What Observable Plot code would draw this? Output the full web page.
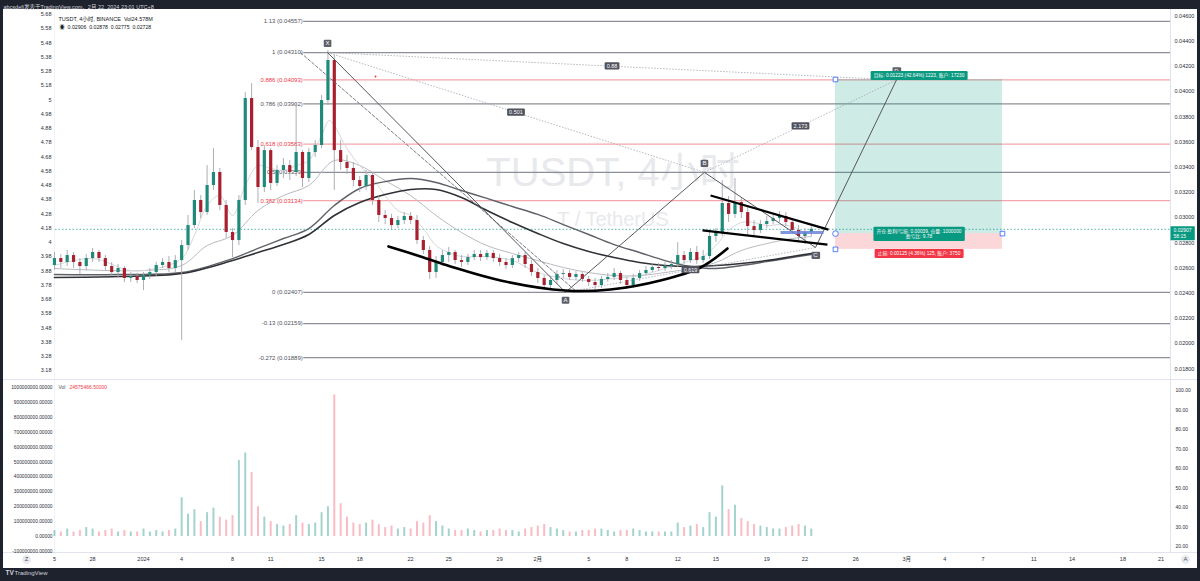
<!DOCTYPE html>
<html><head><meta charset="utf-8">
<script src="https://cdn.jsdelivr.net/npm/d3@7"></script>
<script src="https://cdn.jsdelivr.net/npm/@observablehq/plot@0.6"></script>
<style>
html,body{margin:0;padding:0}
body{width:1200px;height:581px;background:#1e222d;position:relative;overflow:hidden;font-family:"Liberation Sans","Noto Sans CJK SC",sans-serif}
.abs{position:absolute}
#panel{left:3px;top:9px;width:1194px;height:559px;background:#fff}
.sep{background:#e0e3eb}
.ico{width:9px;height:9px;border-radius:50%;background:#e9ebf2;color:#555;font-size:6px;line-height:9px;text-align:center}
</style></head><body>
<div id="panel" class="abs"></div>
<div class="abs sep" style="left:3px;top:379px;width:1194px;height:1px"></div>
<div class="abs sep" style="left:3px;top:552px;width:1194px;height:1px"></div>
<div class="abs sep" style="left:1170px;top:9px;width:1px;height:543px"></div>
<div class="abs" style="left:54px;top:9px;width:1px;height:543px;background:#f0f2f7"></div>
<div class="abs ico" style="left:22px;top:555px">Z</div>
<div class="abs ico" style="left:1181px;top:555px">A</div>
<div id="price" class="abs" style="left:0;top:0"></div>
<div id="vol" class="abs" style="left:0;top:379px"></div>
<script>
// ---------- data ----------
const candleStartDay = -7;      // 2023-12-25 (days from 2024-01-01, UTC+8 chart time)
const candleStepDays = 0.5;
const opens = [.02620,.02675,.02644,.02699,.02644,.02612,.02675,.02723,.02675,.02612,
.02564,.02596,.02517,.02532,.02501,.02540,.02564,.02620,.02644,.02596,
.02659,.02778,.02937,.03136,.03040,.03255,.03358,.03096,.02882,.02818,
.03136,.03945,.03556,.03239,.03532,.03271,.03374,.03413,.03358,.03517,
.03310,.03517,.03572,.03929,.04247,.03532,.03437,.03390,.03294,.03247,
.03334,.03136,.03017,.02993,.02937,.02977,.03009,.02977,.02818,.02739,
.02564,.02644,.02699,.02723,.02659,.02644,.02683,.02707,.02683,.02715,
.02675,.02644,.02620,.02675,.02699,.02628,.02564,.02517,.02461,.02501,
.02548,.02556,.02525,.02548,.02509,.02485,.02461,.02509,.02525,.02556,
.02501,.02461,.02517,.02556,.02580,.02604,.02596,.02612,.02628,.02699,
.02659,.02723,.02659,.02691,.02850,.02882,.03112,.03025,.03120,.03040,
.02929,.02898,.02945,.02969,.02993,.03009,.02961,.02898,.02850,.02882];
const highs = [.02723,.02707,.02739,.02723,.02675,.02707,.02755,.02739,.02699,.02644,
.02628,.02612,.02564,.02556,.02564,.02596,.02644,.02675,.02691,.02699,
.02818,.03017,.03215,.03175,.03413,.03548,.03390,.03136,.02913,.03175,
.03993,.04064,.03612,.03572,.03548,.03413,.03469,.03453,.03906,.03532,
.03548,.03612,.03969,.04326,.04287,.03612,.03493,.03437,.03326,.03374,
.03358,.03167,.03056,.03025,.03009,.03040,.03040,.03017,.02850,.02771,
.02691,.02739,.02763,.02739,.02699,.02707,.02739,.02739,.02739,.02739,
.02707,.02675,.02699,.02723,.02723,.02659,.02596,.02540,.02532,.02580,
.02588,.02580,.02572,.02564,.02532,.02517,.02532,.02556,.02596,.02572,
.02525,.02548,.02580,.02612,.02636,.02636,.02644,.02659,.02802,.02731,
.02755,.02771,.02739,.02898,.02913,.03294,.03167,.03310,.03152,.03088,
.02977,.02977,.03009,.03032,.03048,.03040,.02993,.02937,.02913,.02929];
const lows = [.02580,.02596,.02612,.02596,.02548,.02580,.02644,.02644,.02580,.02532,
.02517,.02485,.02485,.02477,.02421,.02509,.02532,.02596,.02564,.02564,
.02024,.02739,.02913,.02993,.03017,.03215,.03056,.02834,.02683,.02778,
.03096,.03532,.03112,.03199,.03215,.03247,.03310,.03294,.03326,.03239,
.03279,.03477,.03548,.03890,.03215,.03374,.03342,.03247,.03199,.03215,
.03096,.02961,.02945,.02905,.02913,.02945,.02945,.02786,.02707,.02509,
.02517,.02612,.02644,.02628,.02604,.02620,.02659,.02651,.02659,.02644,
.02612,.02588,.02596,.02644,.02596,.02532,.02477,.02429,.02437,.02469,
.02517,.02501,.02501,.02485,.02453,.02421,.02437,.02485,.02501,.02469,
.02429,.02437,.02493,.02540,.02564,.02572,.02572,.02588,.02604,.02628,
.02636,.02628,.02636,.02667,.02802,.02850,.02961,.02993,.02993,.02858,
.02858,.02874,.02913,.02945,.02961,.02929,.02866,.02810,.02786,.02850];
const closes = [.02675,.02644,.02699,.02644,.02612,.02675,.02723,.02675,.02612,.02564,
.02596,.02517,.02532,.02501,.02540,.02564,.02620,.02644,.02596,.02659,
.02778,.02937,.03136,.03040,.03255,.03358,.03096,.02882,.02818,.03136,
.03945,.03556,.03239,.03532,.03271,.03374,.03413,.03358,.03517,.03310,
.03517,.03572,.03929,.04247,.03532,.03437,.03390,.03294,.03247,.03334,
.03136,.03017,.02993,.02937,.02977,.03009,.02977,.02818,.02739,.02564,
.02644,.02699,.02723,.02659,.02644,.02683,.02707,.02683,.02715,.02675,
.02644,.02620,.02675,.02699,.02628,.02564,.02517,.02461,.02501,.02548,
.02556,.02525,.02548,.02509,.02485,.02461,.02509,.02525,.02556,.02501,
.02461,.02517,.02556,.02580,.02604,.02596,.02612,.02628,.02699,.02659,
.02723,.02659,.02691,.02850,.02882,.03112,.03025,.03120,.03040,.02929,
.02898,.02945,.02969,.02993,.03009,.02961,.02898,.02850,.02882,.02907];
// volume in units of 100,000,000
const volumes100M = [0.4,0.3,0.5,0.3,0.4,0.6,0.5,0.3,0.4,0.5,0.3,0.4,0.3,0.3,0.5,0.3,0.4,0.3,0.4,0.5,
2.6,1.5,1.8,1.0,1.6,1.9,1.3,1.1,1.4,5.1,5.6,4.3,2.0,1.3,1.0,0.8,0.7,0.8,1.4,0.9,
0.8,0.9,1.6,2.0,9.5,2.2,1.3,0.9,0.8,0.9,1.1,0.8,0.6,0.7,0.5,0.6,0.5,1.0,0.9,1.4,
1.0,0.7,0.5,0.4,0.4,0.5,0.4,0.3,0.4,0.4,0.5,0.4,0.4,0.3,0.5,0.6,0.7,0.8,0.6,0.5,
0.4,0.3,0.3,0.4,0.4,0.5,0.5,0.4,0.3,0.4,0.4,0.5,0.4,0.3,0.3,0.3,0.3,0.3,0.9,0.6,
0.7,0.8,0.6,1.6,1.3,3.4,1.8,2.1,1.2,1.0,0.8,0.7,0.6,0.5,0.5,0.6,0.7,0.8,0.7,0.5];

// moving averages (day offsets from 2024-01-01)
const maFastDays = [-7,-4,-1,1,3,4,5,6,7,8,9,10,11,12,13,14,14.6,15,16,17,18,19,20,21,22,23,24,25,27,29,31,33,35,37,39,41,43,44,45,46,47,48,49,50,51,52,52.5];
const maFast = [.02620,.02675,.02580,.02596,.02675,.02858,.03096,.03175,.03017,.03255,.03413,.03390,.03374,.03413,.03453,.03652,.03771,.03731,.03548,.03413,.03310,.03175,.03056,.03017,.02913,.02778,.02723,.02691,.02691,.02659,.02564,.02517,.02501,.02517,.02540,.02596,.02659,.02691,.02778,.02898,.02961,.02961,.02937,.02945,.02929,.02882,.02874];
const maMidDays = [-7,0,3,5,7,9,11,13,15,17,19,21,23,25,27,29,31,33,35,37,39,41,43,45,47,49,51,52.5];
const maMid = [.02596,.02580,.02620,.02778,.02858,.03056,.03175,.03255,.03453,.03413,.03294,.03175,.03017,.02882,.02778,.02715,.02659,.02604,.02564,.02540,.02540,.02564,.02596,.02644,.02739,.02794,.02834,.02850];
const maSlowDays = [-7,-2,3,7,9,11,13,15,17,19,21,23,25,27,29,31,33,35,37,39,41,43,45,47,49,51,52.5];
const maSlow1 = [.02548,.02548,.02564,.02675,.02755,.02834,.02913,.03096,.03231,.03286,.03310,.03279,.03215,.03152,.03088,.03025,.02945,.02866,.02786,.02723,.02659,.02612,.02596,.02620,.02651,.02683,.02707];
const maSlow2 = [.02525,.02532,.02556,.02659,.02723,.02786,.02866,.03017,.03120,.03183,.03223,.03223,.03160,.03056,.02961,.02874,.02794,.02731,.02683,.02644,.02620,.02612,.02620,.02636,.02659,.02691,.02715];

// Fibonacci retracement
const fibStartDay = 12.6;
const fibLevels = ["1.13","1","0.886","0.786","0.618","0.5","0.382","0","-0.13","-0.272"];
const fibPrices = [0.04557,0.04310,0.04093,0.03902,0.03583,0.03359,0.03134,0.02407,0.02159,0.01889];
const fibPink   = [false,false,true,false,true,false,true,false,false,false];

// XABCD pattern
const patNames  = ["X","A","B","C","D"];
const patDays   = [14.47,33.18,44.1,52.83,59.2];
const patPrices = [0.04310,0.02407,0.03359,0.02763,0.04093];
const patBelow  = [false,true,false,true,false];
const ratioPairs  = [[0,2],[0,4],[2,4],[1,3]];
const ratioLabels = ["0.501","0.88","2.173","0.619"];
const dashedDays = [12.34,33.96], dashedPrices = [0.0431,0.0242];

// hand-drawn shapes
const bowlDays   = [19.26,21.78,24.14,28.07,33.18,36.71,40.64,43.79,45.91];
const bowlPrices = [0.02771,0.02691,0.02612,0.02501,0.02421,0.02429,0.02501,0.02604,0.02755];
const triDays   = [[44.58,53.85],[43.95,53.77]];
const triPrices = [[0.03175,0.02905],[0.02898,0.02786]];
const entryBarDays = [50.08,53.46], entryBarPrice = 0.02882;

// long position
const posDays = [54.4,67.53];
const posTarget = 0.04096, posEntry = 0.02873, posStop = 0.02748;
const posTexts = ["目标: 0.01223 (42.64%) 1223, 账户: 17230",
  "开仓 盈利/亏损: 0.00039, 仓量: 1000000\n盈亏比: 9.78",
  "止损: 0.00125 (4.36%) 125, 账户: 3750"];

const currentPrice = 0.02907, countdown = "58:15";

// axes
const rightTicks = [0.046,0.044,0.042,0.040,0.038,0.036,0.034,0.032,0.030,0.028,0.026,0.024,0.022,0.020,0.018];
const leftTickValues = [5.68,5.58,5.48,5.38,5.28,5.18,5.08,4.98,4.88,4.78,4.68,4.58,4.48,4.38,4.28,4.18,4.08,3.98,3.88,3.78,3.68,3.58,3.48,3.38,3.28,3.18];
const leftTickTexts  = ["5.68","5.58","5.48","5.38","5.28","5.18","5","4.98","4.88","4.78","4.68","4.58","4.48","4.38","4.28","4.18","4","3.98","3.88","3.78","3.68","3.58","3.48","3.38","3.28","3.18"];
const volTicks100M = [10,9,8,7,6,5,4,3,2,1,0,-1];
const volRightTicks = [100,90,80,70,60,50,40,30,20];
const dateTickDays  = [-7,-4,0,3,7,10,14,17,21,24,28,31,35,38,42,45,49,52,56,60,63,66,70,73,77,80];
const dateTickTexts = ["5","28","2024","4","8","11","15","18","22","25","29","2月","5","8","12","15","19","22","26","3月","4","7","11","14","18","21"];

// ---------- build ----------
const DAY = 864e5, T0 = Date.UTC(2024,0,1);
const dt = d => new Date(T0 + d*DAY);
const X_DOMAIN = [dt(-6.918), dt(80.74)];
const FONT = '"Liberation Sans","Noto Sans CJK SC",sans-serif';
const UP = "#1f8a7a", DOWN = "#a8202e", WICK = "#a3a6ae", AXT = "#2a2e39";

const candles = opens.map((o,i)=>({date: dt(candleStartDay + i*candleStepDays), open:o, high:highs[i], low:lows[i], close:closes[i], vol: volumes100M[i]}));
const mk = (days, vals) => days.map((d,i)=>({date: dt(d), v: vals[i]}));
const fibs = fibLevels.map((l,i)=>({label:`${l} (${fibPrices[i].toFixed(5)})`, price: fibPrices[i], pink: fibPink[i], x1: dt(fibStartDay), x2: X_DOMAIN[1]}));
const pat = patNames.map((n,i)=>({name:n, date: dt(patDays[i]), price: patPrices[i], below: patBelow[i]}));
const ratios = ratioPairs.map(([a,b],i)=>({a: pat[a], b: pat[b], label: ratioLabels[i],
  mid: new Date((+pat[a].date + +pat[b].date)/2), midP: (pat[a].price + pat[b].price)/2}));
const bowl = mk(bowlDays, bowlPrices);
const tris = triDays.map((d,i)=>({x1: dt(d[0]), x2: dt(d[1]), y1: triPrices[i][0], y2: triPrices[i][1]}));
const px1 = dt(posDays[0]), px2 = dt(posDays[1]), pmid = dt((posDays[0]+posDays[1])/2);
const leftToPrice = d3.scaleLinear().domain([5.58,3.18]).range([0.045008,0.017865]);
const rightVolScale = d3.scaleLinear().domain([100,20]).range([9.799,-0.671]);

const priceSvg = Plot.plot({
  width: 1200, height: 379, marginTop: 9, marginBottom: 0, marginLeft: 55, marginRight: 30,
  x: {type: "utc", domain: X_DOMAIN, axis: null},
  y: {domain: [0.017151, 0.046516], axis: null},
  color: {type: "identity"},
  style: {background: "transparent", fontFamily: FONT, overflow: "visible"},
  marks: [
    Plot.text(["TUSDT, 4小时"], {frameAnchor: "middle", dy: -21, fontSize: 40, fill: "#e8e9ec"}),
    Plot.text(["T / TetherUS"], {frameAnchor: "middle", dy: 25, fontSize: 20, fill: "#e8e9ec"}),
    Plot.ruleY(fibs, {y: "price", x1: "x1", x2: "x2", stroke: d => d.pink ? "#f6a5ad" : "#8c8f97", strokeWidth: 1.2}),
    Plot.text(fibs, {x: "x1", y: "price", text: "label", textAnchor: "end", dx: -1, fontSize: 6, fill: d => d.pink ? "#f23645" : "#50535e"}),
    Plot.ruleY([currentPrice], {stroke: "#26a69a", strokeDasharray: "1.5,2", strokeWidth: 0.8}),
    Plot.rect([{x1: px1, x2: px2, y1: posEntry, y2: posTarget}], {x1: "x1", x2: "x2", y1: "y1", y2: "y2", fill: "rgba(8,153,129,0.2)"}),
    Plot.rect([{x1: px1, x2: px2, y1: posStop, y2: posEntry}], {x1: "x1", x2: "x2", y1: "y1", y2: "y2", fill: "rgba(242,54,69,0.2)"}),
    Plot.line(mk(maMidDays, maMid), {x: "date", y: "v", stroke: "#b9bbc1", strokeWidth: 1, curve: "catmull-rom"}),
    Plot.line(mk(maFastDays, maFast), {x: "date", y: "v", stroke: "#d6d7db", strokeWidth: 1, curve: "catmull-rom"}),
    Plot.line(mk(maSlowDays, maSlow1), {x: "date", y: "v", stroke: "#5f6168", strokeWidth: 1.4, curve: "catmull-rom"}),
    Plot.line(mk(maSlowDays, maSlow2), {x: "date", y: "v", stroke: "#2f3136", strokeWidth: 1.6, curve: "catmull-rom"}),
    Plot.ruleX(candles, {x: "date", y1: "low", y2: "high", stroke: WICK, strokeWidth: 0.9}),
    Plot.ruleX(candles, {x: "date", y1: "open", y2: "close", stroke: d => d.close >= d.open ? UP : DOWN, strokeWidth: 3.2}),
    Plot.line(mk(dashedDays, dashedPrices), {x: "date", y: "v", stroke: "#6a6d75", strokeWidth: 0.9, strokeDasharray: "3,2"}),
    Plot.link(ratios, {x1: d => d.a.date, y1: d => d.a.price, x2: d => d.b.date, y2: d => d.b.price, stroke: "#a3a6ae", strokeWidth: 0.8, strokeDasharray: "1.5,1.5"}),
    Plot.line(pat, {x: "date", y: "price", stroke: "#55585f", strokeWidth: 1}),
    Plot.dot([{d: dt(18.24), p: 0.0412}], {x: "d", y: "p", r: 1, fill: "#f23645"}),
    Plot.line(bowl, {x: "date", y: "v", stroke: "#000", strokeWidth: 2.6, curve: "catmull-rom"}),
    Plot.link(tris, {x1: "x1", y1: "y1", x2: "x2", y2: "y2", stroke: "#000", strokeWidth: 2.2}),
    Plot.link([{}], {x1: () => dt(entryBarDays[0]), x2: () => dt(entryBarDays[1]), y1: () => entryBarPrice, y2: () => entryBarPrice, stroke: "#6a84d8", strokeWidth: 3, strokeOpacity: 0.85}),
    Plot.dot([{x: px1, y: posTarget}, {x: px1, y: posStop}, {x: px2, y: posEntry}], {x: "x", y: "y", symbol: "square", r: 2.6, fill: "#fff", stroke: "#2962ff", strokeWidth: 0.8}),
    Plot.dot([{x: px1, y: posEntry}], {x: "x", y: "y", r: 2.8, fill: "#fff", stroke: "#2962ff", strokeWidth: 0.8}),
    Plot.text(pat, {filter: d => !d.below, x: "date", y: "price", text: "name", dy: -9, fontSize: 6, fill: "#fff", className: "lbl-pat"}),
    Plot.text(pat, {filter: d => d.below, x: "date", y: "price", text: "name", dy: 8, fontSize: 6, fill: "#fff", className: "lbl-pat"}),
    Plot.text(ratios, {x: "mid", y: "midP", text: "label", fontSize: 5.5, fill: "#fff", className: "lbl-ratio"}),
    Plot.text([posTexts[0]], {x: () => pmid, y: () => posTarget, dy: -4, fontSize: 4.8, fill: "#fff", className: "lbl-green"}),
    Plot.text([posTexts[1]], {x: () => pmid, y: () => posEntry, dy: 0, fontSize: 4.8, lineHeight: 1.1, fill: "#fff", className: "lbl-green"}),
    Plot.text([posTexts[2]], {x: () => pmid, y: () => posStop, dy: 4, fontSize: 4.8, fill: "#fff", className: "lbl-red"}),
    Plot.text(rightTicks, {y: d => d, frameAnchor: "right", textAnchor: "start", dx: 4, text: d => d.toFixed(5), fontSize: 5.5, fill: AXT}),
    Plot.text(leftTickValues, {y: d => leftToPrice(d), frameAnchor: "left", textAnchor: "end", dx: -4, text: (d, i) => leftTickTexts[i], fontSize: 5.5, fill: AXT}),
    Plot.text([currentPrice], {y: d => d, frameAnchor: "right", textAnchor: "start", dx: 3, dy: 4, text: d => d.toFixed(5) + "\n" + countdown, fontSize: 5, lineHeight: 1.2, fill: "#fff", className: "lbl-axis"}),
    Plot.text(["abcsdefi发表于TradingView.com，2月 22, 2024 23:01 UTC+8"], {frameAnchor: "top-left", textAnchor: "start", dx: -52, dy: -4.5, fontSize: 5.5, fill: "#d1d4dc"}),
    Plot.text(["TUSDT, 4小时, BINANCE  Vol24.578M"], {frameAnchor: "top-left", textAnchor: "start", dx: 3, dy: 8, fontSize: 5.5, fill: "#131722"}),
    Plot.text(["◉  0.02906  0.02878  0.02775  0.02728"], {frameAnchor: "top-left", textAnchor: "start", dx: 4, dy: 16, fontSize: 5.2, fill: "#131722"})
  ]
});
document.getElementById("price").appendChild(priceSvg);

const volSvg = Plot.plot({
  width: 1200, height: 202, marginTop: 0, marginBottom: 29, marginLeft: 55, marginRight: 30,
  x: {type: "utc", domain: X_DOMAIN, axis: null},
  y: {domain: [-1.074, 10.537], axis: null},
  color: {type: "identity"},
  style: {background: "transparent", fontFamily: FONT, overflow: "visible"},
  marks: [
    Plot.ruleX(candles, {x: "date", y1: 0, y2: "vol", stroke: d => d.close >= d.open ? "rgba(38,150,135,0.42)" : "rgba(240,80,100,0.38)", strokeWidth: 2}),
    Plot.text(volTicks100M, {y: d => d, frameAnchor: "left", textAnchor: "end", dx: -3, text: d => (d * 1e8).toFixed(5), fontSize: 4.8, fill: AXT}),
    Plot.text(volRightTicks, {y: d => rightVolScale(d), frameAnchor: "right", textAnchor: "start", dx: 5, text: d => d.toFixed(2), fontSize: 5, fill: AXT}),
    Plot.text(["Vol"], {frameAnchor: "top-left", textAnchor: "start", dx: 3, dy: 6, fontSize: 5, fill: "#50535e"}),
    Plot.text(["24575466.50000"], {frameAnchor: "top-left", textAnchor: "start", dx: 14, dy: 6, fontSize: 5, fill: "#f23645"}),
    Plot.text(dateTickDays, {x: d => dt(d), frameAnchor: "bottom", text: (d, i) => dateTickTexts[i], dx: 0, dy: 8, fontSize: 5.5, fill: AXT}),
    Plot.text(["TradingView"], {frameAnchor: "bottom-left", textAnchor: "start", dx: -41, dy: 22, fontSize: 6, fill: "#d1d4dc"}),
    Plot.text(["TV"], {frameAnchor: "bottom-left", textAnchor: "start", dx: -50, dy: 22, fontSize: 6.5, fontWeight: "bold", fill: "#d1d4dc"})
  ]
});
document.getElementById("vol").appendChild(volSvg);

function boxify(svg, cls, fill, px, py, rx) {
  svg.querySelectorAll("g." + cls + " text").forEach(t => {
    const b = t.getBBox();
    const r = document.createElementNS("http://www.w3.org/2000/svg", "rect");
    r.setAttribute("x", b.x - px); r.setAttribute("y", b.y - py);
    r.setAttribute("width", b.width + 2 * px); r.setAttribute("height", b.height + 2 * py);
    r.setAttribute("rx", rx); r.setAttribute("fill", fill);
    const tr = t.getAttribute("transform"); if (tr) r.setAttribute("transform", tr);
    t.parentNode.insertBefore(r, t);
  });
}
boxify(priceSvg, "lbl-pat", "#5d606b", 1.8, 0.6, 1);
boxify(priceSvg, "lbl-ratio", "#50535e", 2, 0.6, 1);
boxify(priceSvg, "lbl-green", "#089981", 3, 1, 1.2);
boxify(priceSvg, "lbl-red", "#f23645", 3, 1, 1.2);
boxify(priceSvg, "lbl-axis", "#089981", 3, 1, 0.5);
</script>
</body></html>
